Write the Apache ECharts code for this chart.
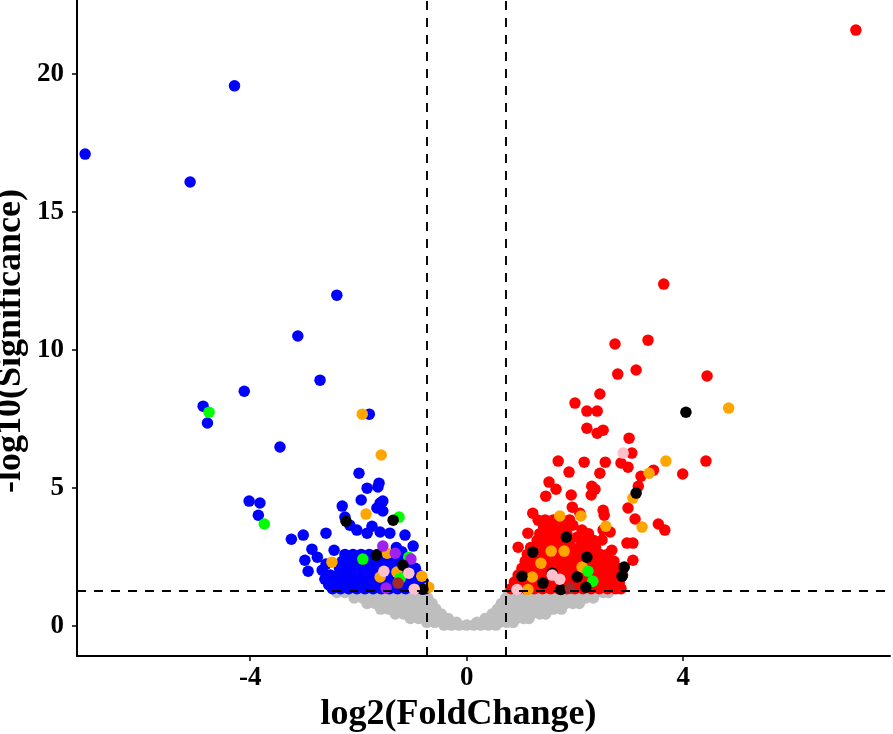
<!DOCTYPE html>
<html><head><meta charset="utf-8">
<script src="https://cdn.jsdelivr.net/npm/echarts@6/dist/echarts.min.js"></script>
<style>html,body{margin:0;padding:0;background:#fff}#c{width:893px;height:734px}</style>
</head><body><div id="c"></div>
<script>
// ---------- axis ticks / thresholds ----------
const xTicks = [-4, 0, 4];
const yTicks = [0, 5, 10, 15, 20];
const fcThresholds = [-0.73, 0.73];
const pThreshold = 1.3;

// ---------- non-significant (grey) points, by rows ----------
const greyRowY = [1.22, 1.02, 0.82, 0.62, 0.44, 0.28, 0.14, 0.04];
const greyRowX = [
 [-2.4,-2.25,-2.1,-1.95,-1.8,-1.65,-1.5,-1.35,-1.2,-1.05,-0.9,-0.77, 0.78,0.9,1.05,1.2,1.35,1.5,1.65,1.8,1.95,2.1,2.25,2.4,2.52,2.62],
 [-2.08,-1.93,-1.78,-1.63,-1.48,-1.33,-1.18,-1.03,-0.88,-0.72, 0.72,0.85,1.0,1.15,1.3,1.45,1.6,1.75,1.9,2.05,2.2,2.34],
 [-1.84,-1.69,-1.54,-1.39,-1.24,-1.09,-0.94,-0.79,-0.64, 0.64,0.78,0.93,1.08,1.23,1.38,1.53,1.68,1.83,1.96,2.08],
 [-1.59,-1.44,-1.29,-1.14,-0.99,-0.84,-0.7,-0.57, 0.57,0.7,0.85,1.0,1.15,1.3,1.45,1.6,1.75],
 [-1.32,-1.17,-1.02,-0.87,-0.72,-0.59,-0.47, 0.47,0.6,0.75,0.9,1.05,1.2,1.35,1.46],
 [-1.04,-0.89,-0.74,-0.6,-0.46,-0.34, 0.34,0.47,0.62,0.77,0.92,1.05,1.15],
 [-0.74,-0.59,-0.45,-0.31,-0.19, 0.19,0.32,0.46,0.6,0.74,0.86],
 [-0.42,-0.28,-0.14,0,0.13,0.26,0.4,0.54]
];

// ---------- down-regulated (blue) ----------
const blueMassY = [1.36, 1.6, 1.85, 2.1, 2.35, 2.6];
const blueMassX = [
 [-2.48,-2.33,-2.18,-2.03,-1.88,-1.73,-1.58,-1.43,-1.28,-1.13,-0.98,-0.84,-0.76],
 [-2.42,-2.27,-2.12,-1.97,-1.82,-1.67,-1.52,-1.37,-1.22,-1.07,-0.93,-0.8],
 [-2.38,-2.23,-2.08,-1.93,-1.78,-1.63,-1.48,-1.33,-1.18,-1.03,-0.88],
 [-2.35,-2.2,-2.05,-1.9,-1.75,-1.6,-1.45,-1.3,-1.15,-0.95],
 [-2.3,-2.15,-2.0,-1.85,-1.7,-1.55,-1.4,-1.25,-1.1],
 [-2.25,-2.1,-1.95,-1.8,-1.65,-1.5,-1.35]
];
const blueScatter = [
 [-7.05,17.10],[-5.11,16.09],[-4.29,19.57],[-2.40,11.99],[-3.12,10.51],[-2.71,8.91],[-4.11,8.51],
 [-4.87,7.97],[-4.79,7.36],[-3.45,6.49],[-1.80,7.68],
 [-4.02,4.53],[-3.82,4.46],[-3.85,4.02],[-3.24,3.15],[-3.02,3.30],
 [-1.99,5.54],[-1.84,5.00],[-1.62,5.18],[-1.64,5.04],[-1.95,4.57],[-1.55,4.53],[-1.60,4.46],
 [-2.30,4.35],[-1.66,4.28],[-1.55,4.17],[-2.25,3.95],
 [-2.03,3.48],[-2.16,3.66],[-1.84,3.37],[-1.60,3.41],[-1.42,3.37],[-1.75,3.62],[-2.60,3.37],
 [-1.14,3.30],[-0.99,2.90],[-2.86,2.79],[-2.99,2.39],[-2.76,2.50],[-2.93,1.99],[-2.67,2.03],
 [-2.52,1.85],[-2.60,2.25],[-2.45,2.75],[-1.3,2.85],[-1.2,2.7],[-2.62,1.7],[-2.55,1.5]
];

// ---------- up-regulated (red) ----------
const redMassY = [1.36, 1.6, 1.85, 2.1, 2.35, 2.6, 2.85, 3.1, 3.35, 3.6, 3.85];
const redMassX = [
 [0.82,0.96,1.1,1.25,1.4,1.55,1.7,1.85,2.0,2.15,2.3,2.45,2.6,2.75,2.85],
 [0.88,1.02,1.17,1.32,1.47,1.62,1.77,1.92,2.07,2.22,2.37,2.52,2.67,2.82],
 [0.95,1.1,1.25,1.4,1.55,1.7,1.85,2.0,2.15,2.3,2.45,2.6,2.75,2.88],
 [1.02,1.17,1.32,1.47,1.62,1.77,1.92,2.07,2.22,2.37,2.52,2.67,2.8],
 [1.08,1.23,1.38,1.53,1.68,1.83,1.98,2.13,2.28,2.43,2.58,2.72],
 [1.12,1.27,1.42,1.57,1.72,1.87,2.02,2.17,2.32,2.47,2.6],
 [1.18,1.33,1.48,1.63,1.78,1.93,2.08,2.23,2.38],
 [1.3,1.45,1.6,1.75,1.9,2.2,2.35],
 [1.35,1.5,1.65,1.85,2.25],
 [1.42,1.6,1.8],
 [1.45,1.6,1.75,1.9]
];
const redScatter = [
 [7.19,21.59],[3.64,12.39],[2.74,10.22],[3.35,10.36],[2.79,9.13],[3.13,9.28],[4.44,9.06],
 [2.46,8.41],[2.00,8.08],[2.22,7.79],[2.41,7.79],[2.22,7.17],[2.41,6.99],[2.52,7.10],[3.00,6.81],
 [3.05,6.27],[1.69,5.98],[2.17,5.94],[2.56,5.94],[2.85,5.91],[2.98,5.76],[4.42,5.98],[1.89,5.58],
 [2.46,5.54],[3.99,5.51],[3.45,5.65],[3.22,5.43],[1.52,5.22],[1.65,4.96],[2.31,5.07],[2.37,4.96],
 [3.17,5.07],[1.46,4.71],[1.93,4.75],[2.30,4.75],[1.22,4.09],[1.32,3.84],[1.59,3.77],[1.95,4.31],
 [2.09,4.09],[2.52,4.20],[2.54,4.02],[2.98,4.28],[3.11,3.88],[3.54,3.70],[3.66,3.48],[1.13,3.37],
 [1.52,3.51],[1.78,3.48],[1.96,3.66],[2.13,3.48],[2.04,3.22],[2.52,3.48],[2.65,3.41],[0.95,2.86],
 [2.50,3.12],[2.68,2.75],[2.96,3.01],[3.07,3.01],[3.07,2.39]
];

// ---------- highlighted categories ----------
const orangePts = [
 [-1.93,7.68],[-1.58,6.20],[-1.86,4.06],[-2.49,2.32],[-1.47,2.64],[-1.60,1.78],[-1.29,1.96],[-0.83,1.81],[-0.70,1.41],
 [4.84,7.90],[3.68,5.98],[3.37,5.54],[3.07,4.64],[1.72,3.99],[2.11,3.99],[2.57,3.62],[3.24,3.59],
 [1.56,2.72],[1.80,2.72],[1.37,2.28],[2.13,2.14],[1.21,1.78],[1.13,1.33]
];
const greenPts = [
 [-4.76,7.75],[-3.74,3.70],[-1.25,3.95],[-1.92,2.43],[-1.07,2.50],[-1.23,1.74],
 [2.24,1.99],[2.33,1.63]
];
const purplePts = [[-1.55,2.90],[-1.32,2.64],[-1.03,2.43],[-1.49,1.38]];
const blackPts = [
 [-2.23,3.80],[-1.36,3.84],[-1.67,2.57],[-1.18,2.21],[-0.81,1.34],
 [4.05,7.75],[3.13,4.82],[1.84,3.22],[1.22,2.68],[2.22,2.50],[2.91,2.14],[2.87,1.81],[1.02,1.81],
 [1.58,1.92],[2.04,1.78],[1.41,1.56],[1.74,1.33],[2.20,1.41]
];
const pinkPts = [[-1.53,1.99],[-1.07,1.92],[-0.97,1.34],[2.89,6.27],[1.58,1.85],[1.72,1.70],[0.93,1.33]];
const brownPts = [[-1.27,1.56],[1.91,1.38]];

function rows(ys, xs) { const out = []; ys.forEach((y, i) => xs[i].forEach(x => out.push([x, y]))); return out; }

const FONT = 'Liberation Serif';
const sz = 11.5;
function sc(name, data, color) {
  return { name, type: 'scatter', data, symbol: 'circle', symbolSize: sz, itemStyle: { color, opacity: 1 }, silent: true };
}

const chart = echarts.init(document.getElementById('c'), null, { renderer: 'canvas' });
chart.setOption({
  animation: false,
  backgroundColor: '#ffffff',
  grid: { left: 77, right: 3, top: 0, bottom: 78, containLabel: false, outerBoundsMode: 'none' },
  xAxis: {
    type: 'value', min: -7.2, max: 7.82,
    splitLine: { show: false },
    axisLine: { show: true, onZero: false, lineStyle: { color: '#000', width: 2 } },
    axisTick: { show: true, length: 5, customValues: xTicks, lineStyle: { color: '#000', width: 1.5 } },
    axisLabel: { customValues: xTicks, color: '#000', fontSize: 27, fontWeight: 'bold', fontFamily: FONT, margin: 9 },
    name: 'log2(FoldChange)', nameLocation: 'middle', nameGap: 40,
    nameTextStyle: { color: '#000', fontSize: 36, fontWeight: 'bold', fontFamily: FONT, padding: [0, 50, 0, 0] }
  },
  yAxis: {
    type: 'value', min: -1.08, max: 22.68,
    splitLine: { show: false },
    axisLine: { show: true, onZero: false, lineStyle: { color: '#000', width: 2 } },
    axisTick: { show: true, length: 5, customValues: yTicks, lineStyle: { color: '#000', width: 1.5 } },
    axisLabel: { customValues: yTicks, color: '#000', fontSize: 27, fontWeight: 'bold', fontFamily: FONT, margin: 13 },
    name: '-log10(Significance)', nameLocation: 'middle', nameGap: 48, nameMoveOverlap: false,
    nameTextStyle: { color: '#000', fontSize: 36, fontWeight: 'bold', fontFamily: FONT, padding: [0, 26, 0, 0] }
  },
  series: [
    sc('NS', rows(greyRowY, greyRowX), '#BEBEBE'),
    sc('Down', rows(blueMassY, blueMassX).concat(blueScatter), '#0000FF'),
    sc('Up', rows(redMassY, redMassX).concat(redScatter), '#FF0000'),
    sc('orange', orangePts, '#FFA500'),
    sc('green', greenPts, '#00FF00'),
    sc('purple', purplePts, '#A020F0'),
    sc('black', blackPts, '#000000'),
    sc('pink', pinkPts, '#FFC0CB'),
    sc('brown', brownPts, '#A52A2A'),
    {
      type: 'line', data: [], z: 10, silent: true,
      markLine: {
        silent: true, symbol: 'none', animation: false,
        label: { show: false },
        lineStyle: { color: '#000', type: [9, 8], width: 1.9 },
        data: fcThresholds.map(v => ({ xAxis: v })).concat([{ yAxis: pThreshold }])
      }
    }
  ]
});
</script>
</body></html>
